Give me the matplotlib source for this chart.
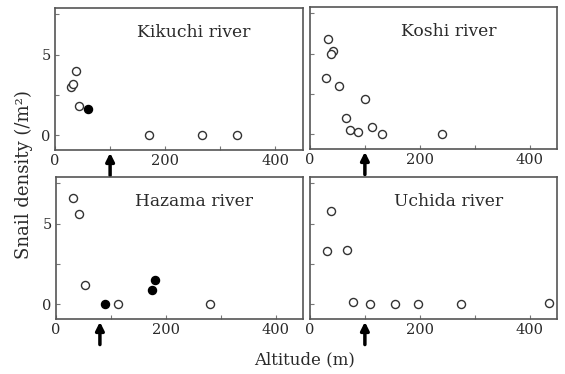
import matplotlib
matplotlib.use("Agg")
import matplotlib.pyplot as plt
from matplotlib.ticker import FixedLocator, NullFormatter

plt.rcParams['font.family'] = ['DejaVu Serif']

# Data: altitude (m), snail density (/m^2); open / filled circles
kikuchi_open_x = [29, 32, 38, 44, 170, 266, 330]
kikuchi_open_y = [2.98, 3.19, 4.02, 1.81, 0.0, 0.0, 0.0]
kikuchi_fill_x = [60]
kikuchi_fill_y = [1.67]

koshi_open_x = [32, 42, 38, 30, 52, 100, 66, 72, 88, 113, 132, 241]
koshi_open_y = [5.9, 5.2, 4.98, 3.49, 3.03, 2.2, 1.05, 0.28, 0.14, 0.45, 0.0, 0.0]
koshi_fill_x = []
koshi_fill_y = []

hazama_open_x = [31, 42, 53, 113, 281]
hazama_open_y = [6.6, 5.63, 1.2, 0.0, 0.0]
hazama_fill_x = [90, 175, 181]
hazama_fill_y = [0.0, 0.89, 1.54]

uchida_open_x = [39, 31, 67, 79, 109, 154, 196, 276, 435]
uchida_open_y = [5.77, 3.33, 3.38, 0.15, 0.0, 0.0, 0.0, 0.0, 0.1]
uchida_fill_x = []
uchida_fill_y = []

titles = ["Kikuchi river", "Koshi river", "Hazama river", "Uchida river"]
arrow_x = [100, 100, 80, 100]
xticks_major = [0, 200, 400]
xticks_minor = [100, 300]
yticks_major = [0, 5]
yticks_minor = [2.5, 7.5]

panels = [
    (kikuchi_open_x, kikuchi_open_y, kikuchi_fill_x, kikuchi_fill_y),
    (koshi_open_x, koshi_open_y, koshi_fill_x, koshi_fill_y),
    (hazama_open_x, hazama_open_y, hazama_fill_x, hazama_fill_y),
    (uchida_open_x, uchida_open_y, uchida_fill_x, uchida_fill_y),
]

W, H = 565, 374
fig = plt.figure(figsize=(W / 100, H / 100), dpi=100)

rects = [
    (55, 8, 303, 150),
    (310, 7, 557, 149),
    (56, 177, 303, 319),
    (310, 177, 557, 319),
]

spine_col = '#555555'
txt_col = '#2a2a2a'
for i, ((l, t, r, b), (ox, oy, fx, fy)) in enumerate(zip(rects, panels)):
    ax = fig.add_axes([l / W, 1 - b / H, (r - l) / W, (b - t) / H])
    ax.plot(ox, oy, 'o', ms=5.8, mfc='white', mec='#333333', mew=1.0, clip_on=False)
    if fx:
        ax.plot(fx, fy, 'o', ms=5.8, mfc='black', mec='black', mew=1.0)
    ax.set_xlim(0, 450)
    ax.set_ylim(-0.9, 7.9)
    ax.xaxis.set_major_locator(FixedLocator(xticks_major))
    ax.xaxis.set_minor_locator(FixedLocator(xticks_minor))
    ax.yaxis.set_major_locator(FixedLocator(yticks_major))
    ax.yaxis.set_minor_locator(FixedLocator(yticks_minor))
    ax.tick_params(which='both', direction='in', length=3, width=0.8,
                   color='#777777', labelsize=10.5, pad=3, labelcolor=txt_col)
    if i % 2 == 1:
        ax.yaxis.set_major_formatter(NullFormatter())
    for s in ax.spines.values():
        s.set_color(spine_col)
        s.set_linewidth(1.2)
    ax.text(0.56, 0.83, titles[i], transform=ax.transAxes, ha='center',
            va='center', fontsize=12.3, color=txt_col)
    ax.annotate('', xy=(arrow_x[i], -0.02), xytext=(arrow_x[i], -0.18),
                xycoords=('data', 'axes fraction'),
                textcoords=('data', 'axes fraction'),
                arrowprops=dict(arrowstyle='-|>', lw=2.5, color='black',
                                mutation_scale=12, shrinkA=0, shrinkB=0),
                annotation_clip=False)

fig.text(24 / W, 1 - 175 / H, 'Snail density (/m²)', rotation=90,
         ha='center', va='center', fontsize=13, color=txt_col)
fig.text(305 / W, 1 - 360 / H, 'Altitude (m)', ha='center', va='center',
         fontsize=12, color=txt_col)

fig.savefig('out.png', dpi=100)
